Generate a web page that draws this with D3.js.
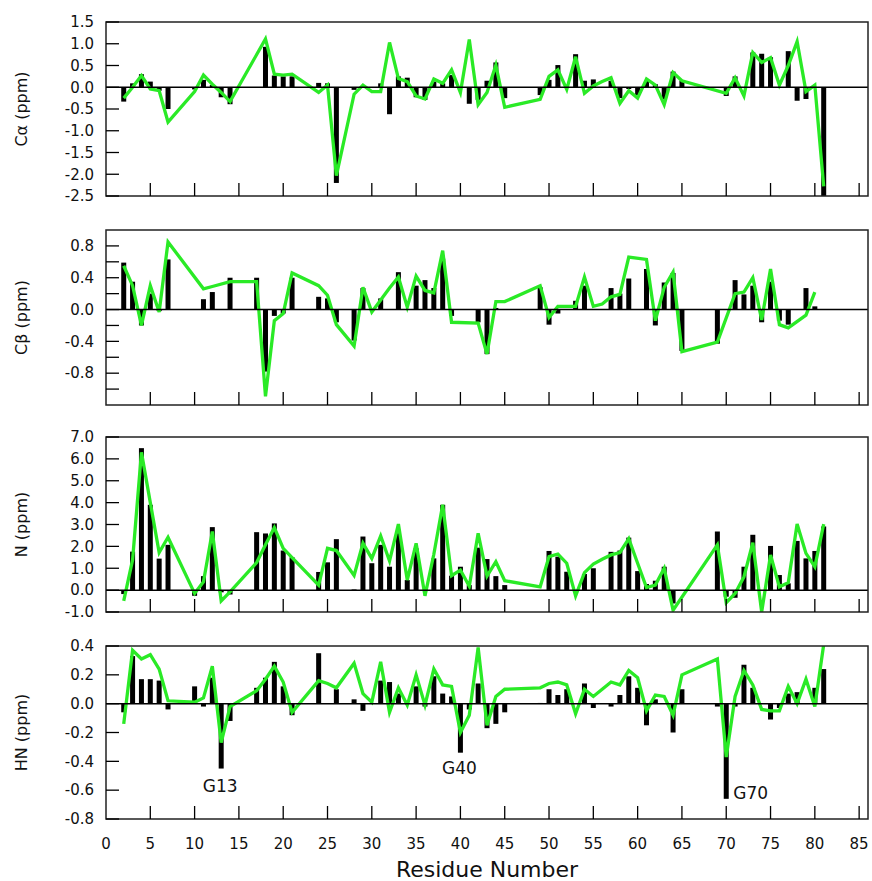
<!DOCTYPE html>
<html><head><meta charset="utf-8">
<script src="https://cdn.jsdelivr.net/npm/d3@7"></script>
<style>body{margin:0;background:#fff}</style>
</head><body>
<svg id="c" width="872" height="881"></svg>
<script>
const residues = [2,3,4,5,6,7,8,9,10,11,12,13,14,15,16,17,18,19,20,21,22,23,24,25,26,27,28,29,30,31,32,33,34,35,36,37,38,39,40,41,42,43,44,45,46,47,48,49,50,51,52,53,54,55,56,57,58,59,60,61,62,63,64,65,66,67,68,69,70,71,72,73,74,75,76,77,78,79,80,81];

const caBar = [-0.33,0.09,0.30,0.13,-0.08,-0.50,null,null,-0.05,0.17,
  0.05,-0.23,-0.39,null,null,null,0.93,0.27,0.25,0.25,
  null,null,0.10,0.09,-2.20,null,-0.06,null,null,0.09,
  -0.62,0.25,0.22,-0.23,-0.29,0.13,0.09,0.28,null,-0.38,
  -0.29,0.15,0.57,-0.25,null,null,null,-0.18,0.17,0.51,
  null,0.76,0.15,0.18,null,0.15,-0.25,-0.04,-0.18,0.15,
  0.07,-0.28,0.36,0.15,null,null,null,null,-0.20,0.25,
  null,0.80,0.77,0.69,null,0.83,-0.31,-0.27,null,-2.50];
const caLine = [-0.25,0.00,0.27,-0.04,-0.08,-0.80,null,null,-0.10,0.28,
  0.07,-0.12,-0.33,null,null,null,1.11,0.30,0.28,0.30,
  null,null,-0.12,0.05,-2.03,null,-0.16,0.05,-0.10,-0.10,
  1.03,0.20,0.13,-0.20,-0.27,0.19,0.09,0.40,-0.12,1.10,
  -0.40,-0.12,0.51,-0.46,null,null,null,-0.28,0.25,0.40,
  -0.05,0.70,-0.14,0.03,0.13,0.22,-0.37,-0.08,-0.25,0.19,
  0.05,-0.40,0.34,0.15,null,null,null,null,-0.14,0.22,
  -0.20,0.80,0.57,0.68,0.05,0.50,1.05,-0.10,0.05,-2.28];

const cbBar = [0.59,0.35,-0.20,0.20,-0.02,0.63,null,null,null,0.13,
  0.22,null,0.40,null,null,0.40,-0.78,-0.08,-0.05,0.40,
  null,null,0.16,0.14,-0.16,null,-0.39,0.27,null,0.14,
  null,0.47,null,0.30,0.37,0.27,0.64,-0.08,null,null,
  -0.16,-0.56,0.02,null,null,null,null,0.28,-0.19,-0.05,
  null,0.11,0.30,null,null,0.27,0.20,0.39,null,0.51,
  -0.20,0.34,0.46,-0.52,null,null,null,-0.43,null,0.37,
  0.19,0.30,-0.16,0.35,-0.14,-0.19,null,0.27,0.04,null];
const cbLine = [0.55,0.30,-0.20,0.30,-0.03,0.85,null,null,null,0.26,
  0.29,null,0.35,null,null,0.35,-1.09,-0.14,-0.05,0.46,
  null,null,0.30,0.18,-0.19,null,-0.46,0.28,-0.03,0.12,
  0.27,0.41,0.03,0.42,0.24,0.21,0.74,-0.16,null,null,
  -0.17,-0.56,0.10,0.10,null,null,null,0.30,-0.10,0.04,
  0.04,0.04,0.41,0.04,0.07,0.16,0.19,0.66,null,0.63,
  -0.14,0.28,0.47,-0.53,null,null,null,-0.41,null,0.20,
  0.22,0.40,-0.13,0.51,-0.19,-0.23,null,-0.07,0.22,null];

const nBar = [-0.18,1.76,6.49,3.90,1.44,2.07,null,null,-0.26,0.64,
  2.88,-0.10,-0.20,null,null,2.65,2.59,3.05,1.81,1.50,
  null,null,0.83,1.27,2.33,null,0.03,2.45,1.23,2.07,
  1.07,2.60,0.46,1.91,null,1.45,3.90,0.66,1.07,0.23,
  1.94,1.42,0.64,0.23,null,null,null,null,1.79,1.53,
  0.84,null,0.74,1.00,null,1.75,1.81,2.40,0.87,0.28,
  0.43,1.07,-0.61,null,null,null,null,2.68,-0.30,-0.35,
  1.07,2.53,null,2.02,0.69,0.31,2.25,1.45,1.79,2.91];
const nLine = [-0.49,1.38,6.30,4.00,1.72,2.42,null,null,-0.15,0.38,
  2.68,-0.49,-0.08,null,null,1.26,2.07,2.86,1.91,1.49,
  null,null,0.23,1.91,1.81,null,0.67,2.14,1.45,2.48,
  1.33,3.02,0.46,2.14,-0.26,1.64,3.90,0.66,0.92,0.18,
  2.60,0.64,1.30,0.43,null,null,null,0.15,1.53,1.65,
  1.23,-0.26,0.80,1.19,1.41,1.61,1.72,2.35,1.23,0.12,
  0.23,1.00,-0.92,null,null,null,null,2.07,-0.57,-0.15,
  0.61,2.17,-1.00,1.61,0.15,0.34,3.02,1.68,1.07,3.02];

const hnBar = [-0.06,0.33,0.17,0.17,0.16,-0.04,null,null,0.12,-0.02,
  0.18,-0.45,-0.12,null,null,0.11,0.18,0.29,0.12,-0.08,
  null,null,0.35,null,0.10,null,0.03,-0.05,null,0.16,
  0.15,0.07,null,0.12,-0.02,0.19,0.07,0.05,-0.34,-0.04,
  0.14,-0.17,-0.14,-0.06,null,null,null,0.005,0.10,0.06,
  0.10,null,0.14,-0.03,null,-0.02,0.06,0.19,0.11,-0.15,
  0.03,null,-0.20,0.10,null,null,null,-0.02,-0.66,-0.02,
  0.27,0.11,null,-0.11,-0.03,0.07,0.08,null,0.11,0.24];
const hnLine = [-0.14,0.37,0.31,0.34,0.24,0.02,null,null,0.01,0.04,
  0.26,-0.27,-0.02,null,null,0.09,0.17,0.26,0.15,-0.06,
  null,null,0.16,0.14,0.11,null,0.28,0.07,0.01,0.29,
  -0.06,0.11,-0.01,0.20,-0.01,0.24,0.13,0.12,-0.20,-0.08,
  0.39,-0.15,0.05,0.10,null,null,null,0.11,0.14,0.15,
  0.13,-0.07,0.10,0.05,0.10,0.15,0.13,0.23,0.18,-0.05,
  0.06,0.05,-0.08,0.20,null,null,null,0.31,-0.37,0.05,
  0.23,0.13,-0.04,-0.05,-0.05,0.12,0.00,0.17,-0.02,0.41];

const xTicks = [0,5,10,15,20,25,30,35,40,45,50,55,60,65,70,75,80,85];
const caTicks = [1.5,1.0,0.5,0.0,-0.5,-1.0,-1.5,-2.0,-2.5];
const cbTicks = [0.8,0.6,0.4,0.2,0.0,-0.2,-0.4,-0.6,-0.8,-1.0];
const cbLabels = [0.8,0.4,0.0,-0.4,-0.8];
const nTicks = [7,6,5,4,3,2,1,0,-1];
const hnTicks = [0.4,0.2,0.0,-0.2,-0.4,-0.6,-0.8];
const annotations = [
  {res:13, val:-0.45, text:"G13"},
  {res:40, val:-0.34, text:"G40"},
  {res:70, val:-0.66, text:"G70"}
];

const FONT = "'DejaVu Sans', Verdana, sans-serif";
const GREEN = "#2aea26";
const svg = d3.select("#c");
const L = 106, R = 868;
const x = d3.scaleLinear().domain([0, 86]).range([L, R]);

const panels = [
  {title:"Cα (ppm)", bars:caBar, line:caLine, domain:[-2.5,1.5], top:22, bottom:196, ticks:caTicks, labels:caTicks},
  {title:"Cβ (ppm)", bars:cbBar, line:cbLine, domain:[-1.2,1.0], top:230, bottom:405, ticks:cbTicks, labels:cbLabels},
  {title:"N (ppm)", bars:nBar, line:nLine, domain:[-1,7], top:437, bottom:612, ticks:nTicks, labels:nTicks},
  {title:"HN (ppm)", bars:hnBar, line:hnLine, domain:[-0.8,0.4], top:646, bottom:819, ticks:hnTicks, labels:hnTicks}
];
const fmt = v => { const s = Math.abs(v).toFixed(1); return (v < -1e-9 ? "-" : "") + s; };

panels.forEach((p, i) => {
  const y = d3.scaleLinear().domain(p.domain).range([p.bottom, p.top]);
  p.y = y;
  const g = svg.append("g");
  const cid = "clip" + i;
  svg.append("clipPath").attr("id", cid).append("rect")
    .attr("x", L).attr("y", p.top).attr("width", R - L).attr("height", p.bottom - p.top);
  const plot = g.append("g").attr("clip-path", `url(#${cid})`);

  const barData = residues.map((r, k) => ({r, v: p.bars[k]})).filter(d => d.v !== null);
  plot.selectAll("rect.bar").data(barData).join("rect")
    .attr("class", "bar")
    .attr("x", d => x(d.r) - 2.5).attr("width", 5)
    .attr("y", d => y(Math.max(0, d.v)))
    .attr("height", d => Math.abs(y(d.v) - y(0)))
    .attr("fill", "#000");

  g.append("line").attr("x1", L).attr("x2", R).attr("y1", y(0)).attr("y2", y(0))
    .attr("stroke", "#000").attr("stroke-width", 1.5);

  const lineData = residues.map((r, k) => ({r, v: p.line[k]})).filter(d => d.v !== null);
  plot.append("path").datum(lineData)
    .attr("d", d3.line().x(d => x(d.r)).y(d => y(d.v)))
    .attr("fill", "none").attr("stroke", GREEN).attr("stroke-width", 3.3)
    .attr("stroke-linejoin", "miter").attr("stroke-miterlimit", 4);

  g.append("rect").attr("x", L).attr("y", p.top).attr("width", R - L).attr("height", p.bottom - p.top)
    .attr("fill", "none").attr("stroke", "#222").attr("stroke-width", 1.5);

  g.selectAll("line.yt").data(p.ticks).join("line")
    .attr("x1", L).attr("x2", L + 13).attr("y1", d => y(d)).attr("y2", d => y(d))
    .attr("stroke", "#000").attr("stroke-width", 1.3);
  g.selectAll("text.yl").data(p.labels).join("text")
    .attr("x", L - 12).attr("y", d => y(d)).attr("dy", "0.35em")
    .attr("text-anchor", "end").attr("font-family", FONT).attr("font-size", 15)
    .attr("fill", "#111").text(fmt);

  g.selectAll("line.xt").data(xTicks.filter(t => t > 0)).join("line")
    .attr("x1", d => x(d)).attr("x2", d => x(d)).attr("y1", p.bottom).attr("y2", p.bottom - 13)
    .attr("stroke", "#000").attr("stroke-width", 1.3);

  const cy = (p.top + p.bottom) / 2;
  g.append("text").attr("transform", `translate(27,${cy}) rotate(-90)`)
    .attr("text-anchor", "middle").attr("font-family", FONT).attr("font-size", 16)
    .attr("fill", "#111").text(p.title);
});

const last = panels[3];
svg.selectAll("text.xl").data(xTicks).join("text")
  .attr("x", d => x(d)).attr("y", last.bottom + 30)
  .attr("text-anchor", "middle").attr("font-family", FONT).attr("font-size", 15)
  .attr("fill", "#111").text(d => d);
svg.append("text").attr("x", (L + R) / 2).attr("y", 877)
  .attr("text-anchor", "middle").attr("font-family", FONT).attr("font-size", 22)
  .attr("fill", "#111").text("Residue Number");

const yh = last.y;
svg.selectAll("text.ann").data(annotations).join("text")
  .attr("x", d => d.res === 70 ? x(d.res) + 7 : x(d.res) - 1)
  .attr("y", d => d.res === 70 ? yh(d.val) : yh(d.val) + (d.res === 13 ? 23 : 21))
  .attr("text-anchor", d => d.res === 70 ? "start" : "middle")
  .attr("font-family", FONT).attr("font-size", 17).attr("fill", "#111")
  .text(d => d.text);
</script>
</body></html>
